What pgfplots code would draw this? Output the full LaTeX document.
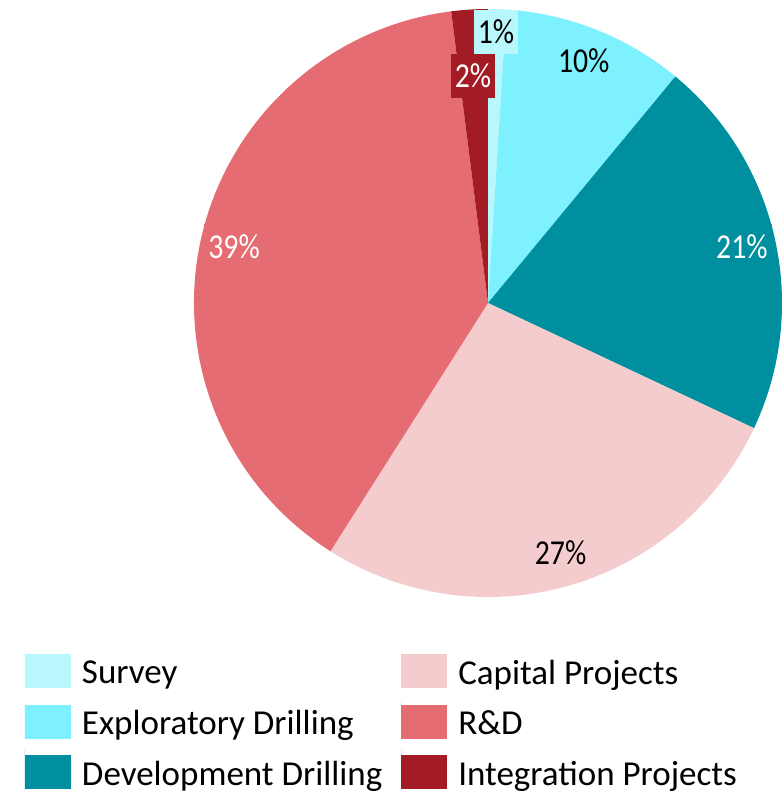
\documentclass[border=0pt]{standalone}
\usepackage{pgfplots}
\usepackage{pgfplotstable}
\pgfplotsset{compat=1.18}
\usepackage{fontspec}
\setmainfont{Carlito}
\newfontfamily\labfont[FakeStretch=0.85]{Carlito}
\definecolor{pie0}{HTML}{B8F7FC}
\definecolor{pie1}{HTML}{7DF1FE}
\definecolor{pie2}{HTML}{008F9F}
\definecolor{pie3}{HTML}{F5CCCE}
\definecolor{pie4}{HTML}{E56C73}
\definecolor{pie5}{HTML}{A31C25}
\colorlet{tc0}{black}
\colorlet{tc1}{black}
\colorlet{tc2}{white}
\colorlet{tc3}{black}
\colorlet{tc4}{white}
\colorlet{tc5}{white}

% share (%), label radius (fraction of pie radius), label angle shift (deg)
\pgfplotstableread{
share labr shift
1  0.922 0.1
10 0.885 0
21 0.885 0
27 0.885 0
39 0.885 0
2  0.774 0.2
}\piedata

\begin{document}
\begin{tikzpicture}
\gdef\cum{0}
\gdef\slicecmds{}
\gdef\labelcmds{}
\foreach \i in {0,...,5}{%
  \pgfplotstablegetelem{\i}{share}\of\piedata \let\s\pgfplotsretval
  \pgfplotstablegetelem{\i}{labr}\of\piedata \let\lr\pgfplotsretval
  \pgfplotstablegetelem{\i}{shift}\of\piedata \let\sh\pgfplotsretval
  \pgfmathsetmacro\a{90-3.6*\cum}%
  \pgfmathsetmacro\b{90-3.6*(\cum+\s)}%
  \pgfmathsetmacro\m{(\a+\b)/2+\sh}%
  \pgfmathsetmacro\lx{\lr*cos(\m)}%
  \pgfmathsetmacro\ly{\lr*sin(\m)}%
  \pgfmathtruncatemacro\sv{\s}%
  \xdef\slicecmds{\unexpanded\expandafter{\slicecmds}\noexpand\fill[pie\i] (axis cs:0,0) -- ++(\a:294pt) arc[start angle=\a, end angle=\b, radius=294pt] -- cycle;}%
  \xdef\labelcmds{\unexpanded\expandafter{\labelcmds}\noexpand\node[fill=pie\i, text=tc\i, inner xsep=4pt, inner ysep=0pt, minimum height=44pt, font=\noexpand\labfont\noexpand\fontsize{35}{35}\noexpand\selectfont] at (axis cs:\lx,\ly) {\sv\noexpand\%};}%
  \pgfmathsetmacro\nc{\cum+\s}%
  \xdef\cum{\nc}%
}
\begin{axis}[
  width=588pt, height=588pt, scale only axis,
  xmin=-1, xmax=1, ymin=-1, ymax=1,
  hide axis, clip=false,
  legend columns=3, transpose legend,
  legend cell align=left,
  legend image code/.code={\path (0pt,-16.5pt) rectangle (0pt,24.5pt);\fill[#1] (0pt,-15pt) rectangle (46pt,19pt);},
  legend style={at={(axis description cs:0,0)}, anchor=north west,
    xshift=-169pt, yshift=-51.5pt, draw=none, fill=none,
    inner sep=0pt, outer sep=0pt,
    font=\fontsize{35}{35}\selectfont,
    row sep=9.5pt, column sep=11pt,
    nodes={inner sep=0pt},
    /tikz/every even column/.append style={column sep=19pt}},
]
\addlegendimage{fill=pie0, draw=none}\addlegendentry{Survey}
\addlegendimage{fill=pie1, draw=none}\addlegendentry{Exploratory Drilling}
\addlegendimage{fill=pie2, draw=none}\addlegendentry{Development Drilling}
\addlegendimage{fill=pie3, draw=none}\addlegendentry{Capital Projects}
\addlegendimage{fill=pie4, draw=none}\addlegendentry{R\&D}
\addlegendimage{fill=pie5, draw=none}\addlegendentry{Integration Projects}
\slicecmds
\labelcmds
\end{axis}
\pgfresetboundingbox
\useasboundingbox (-194pt,-199pt) rectangle (590pt,597pt);
\end{tikzpicture}
\end{document}
